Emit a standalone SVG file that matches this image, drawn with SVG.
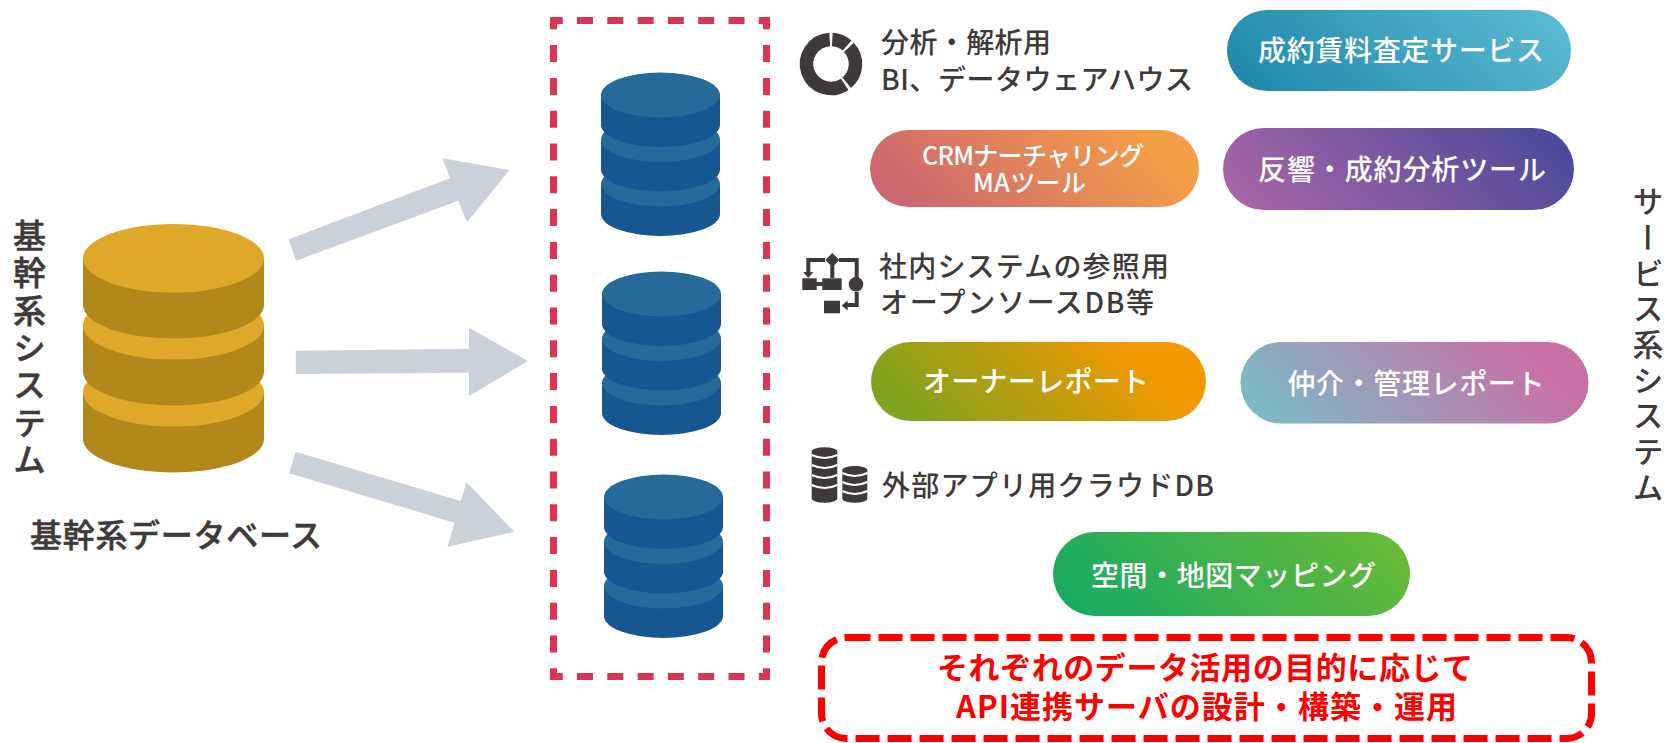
<svg xmlns="http://www.w3.org/2000/svg" width="1665" height="743" viewBox="0 0 1665 743">
<style>
text{font-family:"Noto Sans CJK JP","Noto Sans",sans-serif;font-weight:500}
.d{fill:#3e3a39;font-size:28px}
.b{stroke:#3e3a39;stroke-width:.5}
.w{fill:#fff;font-size:28px}
.s{fill:#fff;font-size:25px}
.v{fill:#3e3a39;writing-mode:vertical-rl}
.r{fill:#f00;font-size:31px;font-weight:700}
.arrow{fill:#ccd0d9}
.ic{fill:#3e3a39}
.il{fill:none;stroke:#3e3a39;stroke-width:4}
.wl{fill:none;stroke:#fff;stroke-width:2}
.dbox{fill:none;stroke:#db3553;stroke-width:7;stroke-dasharray:16 14.3;stroke-dashoffset:3.3}
.dboxv{fill:none;stroke:#db3553;stroke-width:7;stroke-dasharray:17 15.8;stroke-dashoffset:4.7}
</style>
<defs>
<g id="ylayer"><path d="M83 258.300V305A90.500 33.500 0 0 0 264 305V258.300Z" fill="#b2881a"/><ellipse cx="173.500" cy="258.300" rx="90.500" ry="34.300" fill="#e0a82a"/></g>
<g id="blayer"><path d="M601 95V125A59.500 22 0 0 0 720 125V95Z" fill="#165691"/><ellipse cx="660.500" cy="95" rx="59.500" ry="22.500" fill="#246b9a"/></g>
<linearGradient id="g1" gradientUnits="userSpaceOnUse" x1="1292.750" y1="156.750" x2="1505.250" y2="-55.750"><stop offset="0" stop-color="#1c86a8"/><stop offset="1" stop-color="#5fbdd5"/></linearGradient>
<linearGradient id="g2" gradientUnits="userSpaceOnUse" x1="933" y1="270" x2="1136" y2="67"><stop offset=".1" stop-color="#cc6670"/><stop offset=".85" stop-color="#f49e47"/></linearGradient>
<linearGradient id="g3" gradientUnits="userSpaceOnUse" x1="1290.250" y1="277.250" x2="1506.750" y2="60.750"><stop offset=".05" stop-color="#a866a6"/><stop offset=".92" stop-color="#4e4a9a"/></linearGradient>
<linearGradient id="g4" gradientUnits="userSpaceOnUse" x1="935" y1="485" x2="1142" y2="278"><stop offset=".1" stop-color="#7fa31f"/><stop offset=".8" stop-color="#f39800"/></linearGradient>
<linearGradient id="g5" gradientUnits="userSpaceOnUse" x1="1307.100" y1="490.150" x2="1521.900" y2="275.350"><stop offset=".1" stop-color="#7fb7c3"/><stop offset=".85" stop-color="#ca6fa6"/></linearGradient>
<linearGradient id="g6" gradientUnits="userSpaceOnUse" x1="1121.250" y1="684.250" x2="1341.750" y2="463.750"><stop offset=".05" stop-color="#17aa63"/><stop offset=".95" stop-color="#69ba38"/></linearGradient>
</defs>

<g id="connectors">
<polygon class="arrow" points="288.600,239.300 296.100,260.700 458.300,200.700 467,222.300 509.600,170 442.500,158.300 450,178.300"/>
<polygon class="arrow" points="295.800,350.700 295.800,374 469,372.700 469,396 527.900,361 469,327.700 469,348.700"/>
<polygon class="arrow" points="295.500,451.700 289.300,473.300 454.500,522.700 447.700,546.700 514.100,531.700 466.600,482.300 460.700,501"/>
</g>

<g id="core-db">
<use href="#ylayer" y="134"/><use href="#ylayer" y="67"/><use href="#ylayer"/>
</g>
<g id="core-system-label"><text class="v b" x="29.500" y="219" style="font-size:33px" letter-spacing="4.300">基幹系システム</text></g>
<g id="core-db-label"><text class="d b" x="30" y="547" style="font-size:32px" textLength="292" lengthAdjust="spacing">基幹系データベース</text></g>

<g id="api-frame">
<path class="dbox" d="M550 20.500H770"/>
<path class="dbox" d="M550 676.500H770"/>
<path class="dboxv" d="M553.500 17V680"/>
<path class="dboxv" d="M766.500 17V680"/>
</g>
<g id="db-1"><use href="#blayer" y="89"/><use href="#blayer" y="44.500"/><use href="#blayer"/></g>
<g id="db-2" transform="translate(1 199)"><use href="#blayer" y="89"/><use href="#blayer" y="44.500"/><use href="#blayer"/></g>
<g id="db-3" transform="translate(3 402)"><use href="#blayer" y="89"/><use href="#blayer" y="44.500"/><use href="#blayer"/></g>

<g id="analysis">
<g fill="none" stroke="#3e3a39" stroke-width="13.500">
<path d="M832.300 39.500A24.500 24.500 0 0 1 847.100 45.500"/>
<path d="M848.900 47.300A24.500 24.500 0 0 1 846.700 82.800"/>
<path d="M844.700 84.300A24.500 24.500 0 1 1 829.700 39.500"/>
</g>
<text class="d" x="881" y="53" textLength="170" lengthAdjust="spacing">分析・解析用</text>
<text class="d" x="881" y="90" textLength="312" lengthAdjust="spacing">BI、データウェアハウス</text>
</g>
<g id="pill-assess"><rect x="1227" y="10" width="344" height="81" rx="40.500" fill="url(#g1)"/><text class="w" x="1258" y="61" textLength="286" lengthAdjust="spacing">成約賃料査定サービス</text></g>
<g id="pill-crm"><rect x="870" y="130" width="329" height="77" rx="38.500" fill="url(#g2)"/>
<text class="s" x="922" y="165" textLength="222" lengthAdjust="spacing">CRMナーチャリング</text>
<text class="s" x="973" y="192" textLength="113" lengthAdjust="spacing">MAツール</text></g>
<g id="pill-response"><rect x="1223" y="128" width="351" height="82" rx="41" fill="url(#g3)"/><text class="w" x="1258" y="180" textLength="288" lengthAdjust="spacing">反響・成約分析ツール</text></g>

<g id="internal">
<g class="ic">
<path class="il" d="M825 260H808.300V272M832.300 262V278M839 260H856.700V278M816 284H823M856.700 292V305H846"/>
<polygon points="832.300,253 839.300,260 832.300,267 825.300,260"/>
<polygon points="803.300,272 813.300,272 808.300,278"/>
<polygon points="841.700,305.500 847.700,300.500 847.700,310.500"/>
<rect x="802.300" y="278.300" width="14.400" height="11.700"/>
<rect x="822.300" y="278.300" width="19.400" height="11.700"/>
<circle cx="856" cy="284.300" r="7.300"/>
<rect x="824" y="300.700" width="16" height="12.600"/>
</g>
<text class="d" x="879" y="277" textLength="290" lengthAdjust="spacing">社内システムの参照用</text>
<text class="d" x="880" y="313" textLength="274" lengthAdjust="spacing">オープンソースDB等</text>
</g>
<g id="pill-owner"><rect x="871" y="342" width="335" height="79" rx="39.500" fill="url(#g4)"/><text class="w" x="923" y="392" textLength="226" lengthAdjust="spacing">オーナーレポート</text></g>
<g id="pill-broker"><rect x="1240.500" y="342" width="348" height="81.500" rx="40.700" fill="url(#g5)"/><text class="w" x="1287.500" y="393.500" textLength="257" lengthAdjust="spacing">仲介・管理レポート</text></g>

<g id="cloud">
<g class="ic">
<path d="M811.700 451.500A12.800 4.200 0 0 1 837.300 451.500V498.500A12.800 4.200 0 0 1 811.700 498.500Z"/>
<path d="M842.300 470A12.500 4 0 0 1 867.300 470V498.700A12.500 4 0 0 1 842.300 498.700Z"/>
</g>
<g class="wl">
<path d="M811.700 455q12.800 6 25.600 0M811.700 465q12.800 6 25.600 0M811.700 475q12.800 6 25.600 0M811.700 485q12.800 6 25.600 0"/>
<path d="M842.300 473q12.500 6 25 0M842.300 482q12.500 6 25 0M842.300 491q12.500 6 25 0"/>
</g>
<text class="d" x="882" y="496" textLength="332" lengthAdjust="spacing">外部アプリ用クラウドDB</text>
</g>
<g id="pill-map"><rect x="1053" y="532" width="357" height="84" rx="42" fill="url(#g6)"/><text class="w" x="1091" y="586" textLength="285" lengthAdjust="spacing">空間・地図マッピング</text></g>

<g id="service-system-label"><text class="v" x="1648" y="186" style="font-size:31px" letter-spacing="4.700">サービス系システム</text></g>

<g id="note">
<rect x="821.500" y="637.500" width="770" height="101" rx="25" fill="none" stroke="#f00" stroke-width="7" stroke-dasharray="24 8"/>
<text class="r" x="937" y="679" textLength="536" lengthAdjust="spacing">それぞれのデータ活用の目的に応じて</text>
<text class="r" x="956" y="718" textLength="501" lengthAdjust="spacing">API連携サーバの設計・構築・運用</text>
</g>
</svg>
